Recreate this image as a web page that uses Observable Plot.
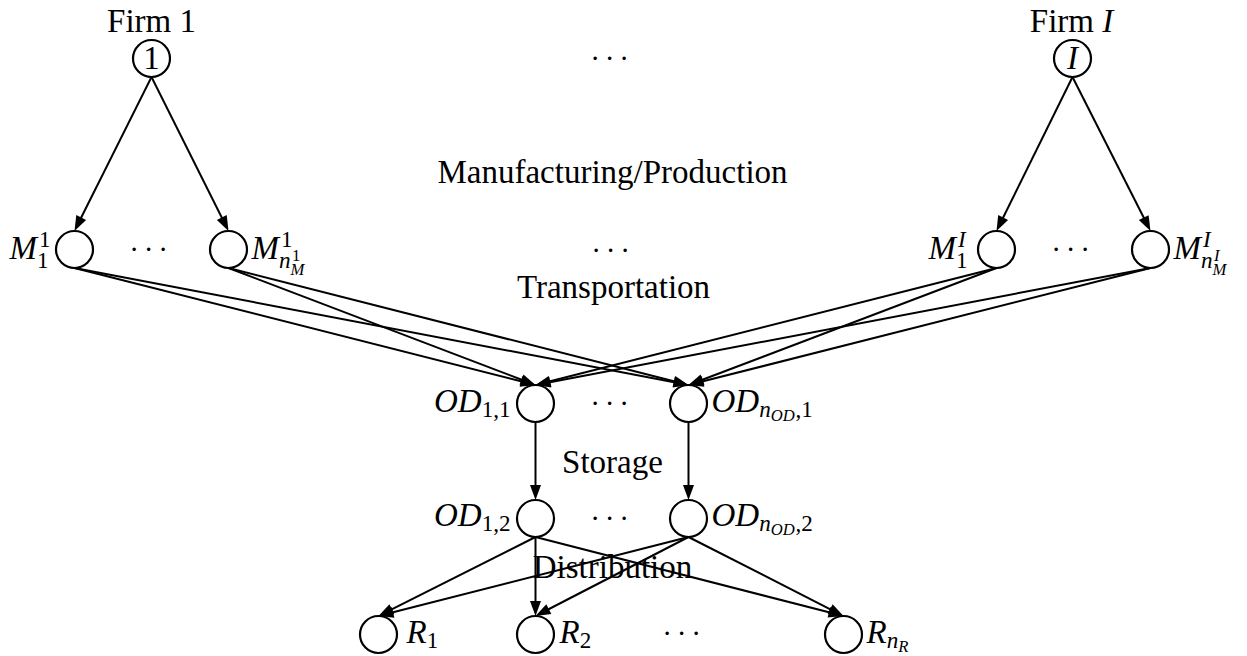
<!DOCTYPE html>
<html>
<head>
<meta charset="utf-8">
<script src="https://cdn.jsdelivr.net/npm/d3@7"></script>
<script src="https://cdn.jsdelivr.net/npm/@observablehq/plot@0.6"></script>
<style>
  html, body { margin: 0; padding: 0; background: #fff; }
  #chart { width: 1247px; height: 656px; }
</style>
</head>
<body>
<div id="chart"></div>
<script>
// ---- Nodes (diagram coordinates) ----
const nodeIds = ["firm1","firmI","M11","M1n","MI1","MIn","OD11","ODn1","OD12","ODn2","R1","R2","Rn"];
const nodeX   = [151, 1072, 74, 228, 996, 1150, 535, 688, 535, 688, 378, 535, 843];
const nodeY   = [58, 58, 249, 249, 249, 249, 403, 403, 518, 518, 634, 634, 634];
const nodeR   = 18.5;

// ---- Edges ----
const edgeFrom = ["firm1","firm1","firmI","firmI",
  "M11","M11","M1n","M1n","MI1","MI1","MIn","MIn",
  "OD11","ODn1",
  "OD12","OD12","OD12","ODn2","ODn2","ODn2"];
const edgeTo = ["M11","M1n","MI1","MIn",
  "OD11","ODn1","OD11","ODn1","OD11","ODn1","OD11","ODn1",
  "OD12","ODn2",
  "R1","R2","Rn","R1","R2","Rn"];

// ---- Labels ----
const labelText   = ["Firm 1","Firm $I$","1","$I$",
  "$M_1^1$","$M_1^I$","$OD_{1,1}$","$OD_{1,2}$",
  "$M^1_{n^1_M}$","$M^I_{n^I_M}$","$OD_{n_{OD},1}$","$OD_{n_{OD},2}$","$R_1$","$R_2$","$R_{n_R}$",
  "Manufacturing/Production","Transportation","Storage","Distribution"];
const labelX      = [151,1071,151,1072, 51,968,511,511, 251,1173,711,711,406,559,866, 612,613,612,612];
const labelY      = [31,31,68,68, 258,258,411,525, 258,258,411,525,642,642,642, 182,297,472,577];
const labelAnchor = ["middle","middle","middle","middle",
  "end","end","end","end",
  "start","start","start","start","start","start","start",
  "middle","middle","middle","middle"];

// ---- Ellipses ----
const dotsX = [609, 148, 1070, 610, 609, 609, 681];
const dotsY = [57, 248, 248, 249, 402, 517, 632];

// ---- Build tables ----
const nodes = nodeIds.map((id, i) => ({id, x: nodeX[i], y: nodeY[i]}));
const byId = Object.fromEntries(nodes.map(n => [n.id, n]));
const headLen = 15, headHalf = 5.5;
const edges = edgeFrom.map((f, i) => {
  const s = byId[f], t = byId[edgeTo[i]];
  const x1 = s.x, y1 = s.y + nodeR, x2 = t.x, y2 = t.y - nodeR;
  const dx = x2 - x1, dy = y2 - y1, L = Math.hypot(dx, dy);
  const ux = dx / L, uy = dy / L;
  return {x1, y1, x2: x2 - ux * (headLen - 3), y2: y2 - uy * (headLen - 3),
          tx: x2, ty: y2, angle: Math.atan2(dx, -dy) * 180 / Math.PI};
});
const labels = labelText.map((t, i) => ({t, x: labelX[i], y: labelY[i], a: labelAnchor[i]}));
const dots = dotsX.map((x, i) => ({x, y: dotsY[i] + 2}));

const arrowHead = {
  draw(ctx) {
    ctx.moveTo(0, 0);
    ctx.lineTo(-headHalf, headLen);
    ctx.lineTo(headHalf, headLen);
    ctx.closePath();
  }
};

const FONT = "Liberation Serif";
const FS = 33;

const svg = Plot.plot({
  width: 1247,
  height: 656,
  margin: 0,
  x: {domain: [0, 1247], range: [0, 1247], axis: null},
  y: {domain: [0, 656], range: [0, 656], axis: null},
  style: {fontFamily: FONT, fontSize: FS + "px", background: "white", color: "black"},
  marks: [
    Plot.link(edges, {x1: "x1", y1: "y1", x2: "x2", y2: "y2", stroke: "black", strokeWidth: 2}),
    Plot.dot(edges, {x: "tx", y: "ty", rotate: "angle", symbol: arrowHead, fill: "black", stroke: "none", r: 5}),
    Plot.dot(nodes, {x: "x", y: "y", r: nodeR, stroke: "black", strokeWidth: 2.2, fill: "none"}),
    ...["start", "middle", "end"].map(a =>
      Plot.text(labels.filter(d => d.a === a), {x: "x", y: "y", text: "t", textAnchor: a, lineAnchor: "bottom",
        fontSize: FS, fill: "black"})),
    Plot.text(dots, {x: "x", y: "y", text: () => ". . .", textAnchor: "middle", lineAnchor: "bottom",
      fontSize: 29, fill: "black"})
  ]
});
document.getElementById("chart").appendChild(svg);

// ---- Math label typesetting (sub/superscripts) ----
const NS = "http://www.w3.org/2000/svg";
function isLetter(c) { return /[A-Za-z]/.test(c); }
function parseMath(s) {
  let i = 0;
  const nodesOut = [];
  function group() {
    if (s[i] === "{") {
      let depth = 1, j = i + 1;
      while (depth && j < s.length) { if (s[j] === "{") depth++; else if (s[j] === "}") depth--; j++; }
      const inner = s.slice(i + 1, j - 1); i = j; return parseMath(inner);
    }
    const c = s[i++]; return [{t: c, it: isLetter(c)}];
  }
  while (i < s.length) {
    const c = s[i];
    if (c === "^" || c === "_") {
      i++;
      const g = group();
      let last = nodesOut[nodesOut.length - 1];
      if (!last) { last = {t: "", it: false}; nodesOut.push(last); }
      if (c === "^") last.sup = g; else last.sub = g;
    } else { i++; nodesOut.push({t: c, it: isLetter(c)}); }
  }
  return nodesOut;
}
function parseLabel(str) {
  const out = [];
  str.split("$").forEach((p, k) => {
    if (!p) return;
    if (k % 2 === 0) out.push({t: p.replace(/ /g, "\u00A0"), it: false});
    else out.push(...parseMath(p));
  });
  return out;
}
function render(el, list, x, shift, size, depth) {
  let cx = x;
  for (const n of list) {
    if (n.t) {
      const ts = document.createElementNS(NS, "tspan");
      ts.textContent = n.t;
      ts.setAttribute("x", cx);
      ts.setAttribute("y", -shift);
      ts.setAttribute("font-size", size);
      if (n.it) ts.setAttribute("font-style", "italic");
      el.appendChild(ts);
      cx += ts.getComputedTextLength();
    }
    if (n.sup || n.sub) {
      const ss = size * (depth === 0 ? 0.7 : 0.72);
      const both = n.sup && n.sub;
      let w = 0;
      if (n.sup) {
        const k = n.it ? size * 0.06 : 0;
        w = Math.max(w, k + render(el, n.sup, cx + k, shift + size * (depth === 0 ? 0.36 : 0.3), ss, depth + 1));
      }
      if (n.sub) {
        w = Math.max(w, render(el, n.sub, cx, shift - size * (both ? 0.3 : 0.17), ss, depth + 1));
      }
      cx += w + size * 0.03;
    }
  }
  return cx - x;
}
svg.querySelectorAll("text").forEach(el => {
  const str = el.textContent;
  if (!str.includes("$")) return;
  const anchor = getComputedStyle(el).textAnchor;
  const size = parseFloat(getComputedStyle(el).fontSize) || FS;
  el.textContent = "";
  el.setAttribute("text-anchor", "start");
  el.removeAttribute("y");
  const W = render(el, parseLabel(str), 0, 0, size, 0);
  const off = anchor === "end" ? -W : anchor === "middle" ? -W / 2 : 0;
  el.querySelectorAll("tspan").forEach(ts => ts.setAttribute("x", parseFloat(ts.getAttribute("x")) + off));
});
</script>
</body>
</html>
